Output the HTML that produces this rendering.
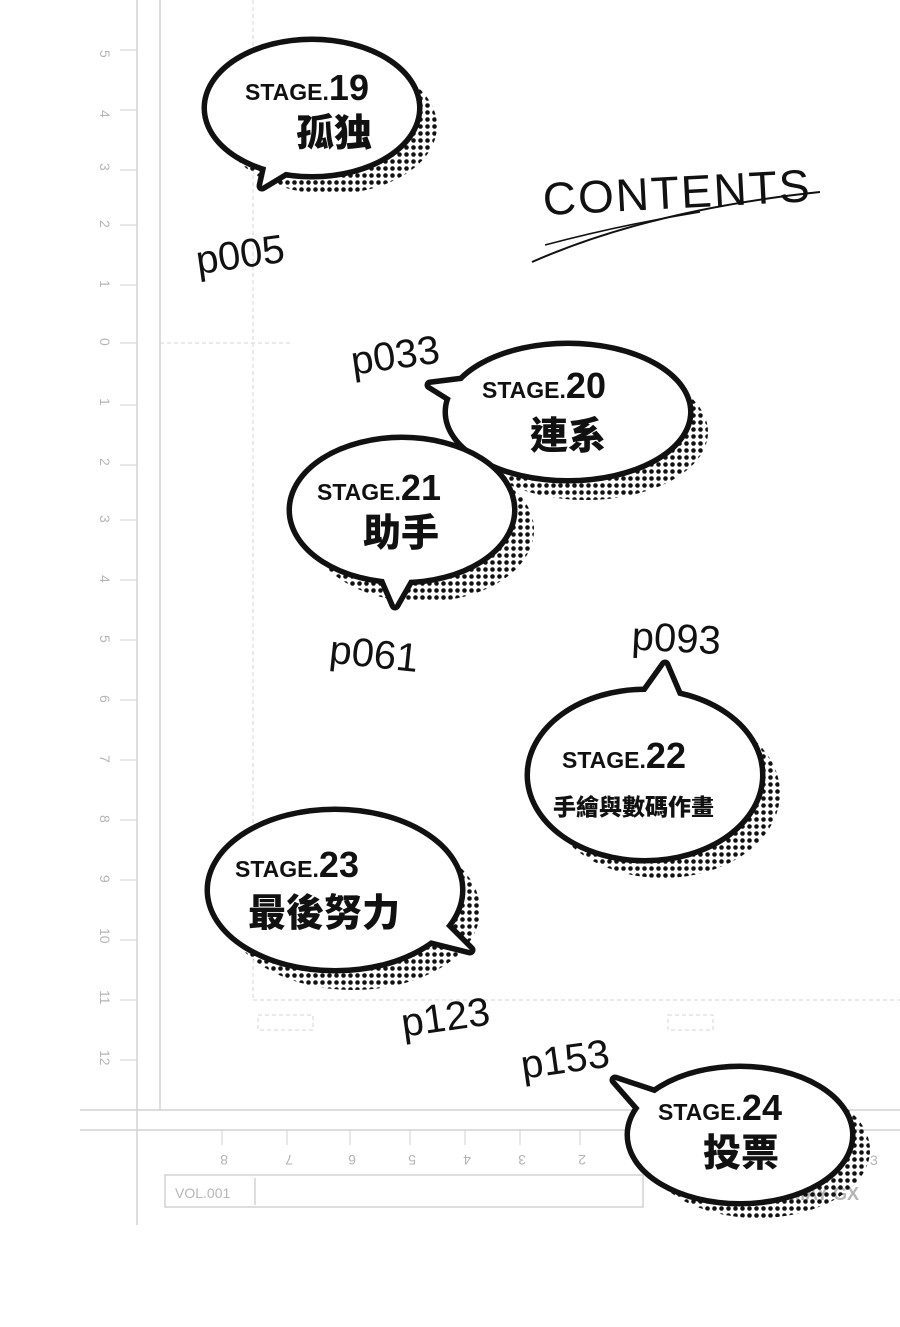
<!DOCTYPE html>
<html><head><meta charset="utf-8"><style>
html,body{margin:0;padding:0;background:#fff;}
svg{display:block;}
.st{font-family:"Liberation Sans",sans-serif;font-weight:bold;fill:#111;}
.kj{font-family:"Liberation Sans","Noto Sans CJK TC",sans-serif;font-weight:900;fill:#111;}
.hw{font-family:"Liberation Sans",sans-serif;fill:#111;font-weight:normal;}
.rl{font-family:"Liberation Sans",sans-serif;fill:#b5b5b5;font-size:14px;}
</style></head><body>
<svg width="900" height="1327" viewBox="0 0 900 1327" xmlns="http://www.w3.org/2000/svg">
<defs>
<pattern id="dots" width="7" height="7" patternUnits="userSpaceOnUse">
<circle cx="3.5" cy="3.5" r="2.3" fill="#111"/>
</pattern>
</defs>
<rect width="900" height="1327" fill="#fff"/>
<g stroke="#d2d2d2" fill="none" stroke-width="1.5">
<line x1="137" y1="0" x2="137" y2="1225"/>
<line x1="160" y1="0" x2="160" y2="1110"/>
<line x1="80" y1="1110" x2="900" y2="1110"/>
<line x1="80" y1="1130" x2="900" y2="1130"/>
<rect x="165" y="1175" width="478" height="32"/>
<line x1="255" y1="1178" x2="255" y2="1205"/>
</g>
<g stroke="#d5d5d5" stroke-width="1" stroke-dasharray="4 3" fill="none">
<line x1="253" y1="0" x2="253" y2="1000"/>
<line x1="160" y1="343" x2="290" y2="343"/>
<line x1="253" y1="1000" x2="900" y2="1000"/>
<rect x="258" y="1015" width="55" height="15"/>
<rect x="668" y="1015" width="45" height="15"/>
</g>
<g stroke="#d2d2d2" stroke-width="1">
<line x1="120" y1="50" x2="137" y2="50"/><line x1="120" y1="110" x2="137" y2="110"/>
<line x1="120" y1="170" x2="137" y2="170"/><line x1="120" y1="225" x2="137" y2="225"/>
<line x1="120" y1="285" x2="137" y2="285"/><line x1="120" y1="343" x2="137" y2="343"/>
<line x1="120" y1="405" x2="137" y2="405"/><line x1="120" y1="465" x2="137" y2="465"/>
<line x1="120" y1="520" x2="137" y2="520"/><line x1="120" y1="580" x2="137" y2="580"/>
<line x1="120" y1="640" x2="137" y2="640"/><line x1="120" y1="700" x2="137" y2="700"/>
<line x1="120" y1="760" x2="137" y2="760"/><line x1="120" y1="820" x2="137" y2="820"/>
<line x1="120" y1="880" x2="137" y2="880"/><line x1="120" y1="940" x2="137" y2="940"/>
<line x1="120" y1="1000" x2="137" y2="1000"/><line x1="120" y1="1060" x2="137" y2="1060"/>
<line x1="222" y1="1130" x2="222" y2="1145"/><line x1="287" y1="1130" x2="287" y2="1145"/>
<line x1="350" y1="1130" x2="350" y2="1145"/><line x1="410" y1="1130" x2="410" y2="1145"/>
<line x1="465" y1="1130" x2="465" y2="1145"/><line x1="520" y1="1130" x2="520" y2="1145"/>
<line x1="580" y1="1130" x2="580" y2="1145"/><line x1="635" y1="1130" x2="635" y2="1145"/>
</g>
<g class="rl">
<text transform="translate(100,50) rotate(90)">5</text>
<text transform="translate(100,110) rotate(90)">4</text>
<text transform="translate(100,163) rotate(90)">3</text>
<text transform="translate(100,220) rotate(90)">2</text>
<text transform="translate(100,280) rotate(90)">1</text>
<text transform="translate(100,338) rotate(90)">0</text>
<text transform="translate(100,398) rotate(90)">1</text>
<text transform="translate(100,458) rotate(90)">2</text>
<text transform="translate(100,515) rotate(90)">3</text>
<text transform="translate(100,575) rotate(90)">4</text>
<text transform="translate(100,635) rotate(90)">5</text>
<text transform="translate(100,695) rotate(90)">6</text>
<text transform="translate(100,755) rotate(90)">7</text>
<text transform="translate(100,815) rotate(90)">8</text>
<text transform="translate(100,875) rotate(90)">9</text>
<text transform="translate(100,928) rotate(90)">10</text>
<text transform="translate(100,990) rotate(90)">11</text>
<text transform="translate(100,1050) rotate(90)">12</text>
<text transform="translate(228,1155) rotate(180)">8</text>
<text transform="translate(293,1155) rotate(180)">7</text>
<text transform="translate(356,1155) rotate(180)">6</text>
<text transform="translate(416,1155) rotate(180)">5</text>
<text transform="translate(471,1155) rotate(180)">4</text>
<text transform="translate(526,1155) rotate(180)">3</text>
<text transform="translate(586,1155) rotate(180)">2</text>
<text transform="translate(641,1155) rotate(180)">1</text>
<text x="175" y="1198">VOL.001</text>
<text x="790" y="1200" font-weight="bold" font-size="18">MAY GX</text>
<text x="870" y="1165">3</text>
</g>

<text x="542" y="208" class="hw" font-size="46" letter-spacing="2" transform="rotate(-3 680 180)">CONTENTS</text>
<path d="M532 262 Q650 210 820 192" stroke="#111" stroke-width="2" fill="none"/>
<path d="M545 245 Q620 225 700 212" stroke="#111" stroke-width="1.5" fill="none"/>

<g class="hw" font-size="40">
<text x="195" y="268" transform="rotate(-8 240 250)">p005</text>
<text x="350" y="368" transform="rotate(-8 400 350)">p033</text>
<text x="330" y="668" transform="rotate(6 380 650)">p061</text>
<text x="632" y="652" transform="rotate(3 680 635)">p093</text>
<text x="400" y="1030" transform="rotate(-8 450 1010)">p123</text>
<text x="520" y="1072" transform="rotate(-8 570 1055)">p153</text>
</g>

<g>
<g transform="translate(18,18)" fill="url(#dots)"><ellipse cx="312" cy="108" rx="107" ry="68"/></g>
<g stroke="#111" stroke-width="11" stroke-linejoin="round">
<ellipse cx="312" cy="108" rx="105" ry="66"/><polygon points="270,150 262,186 305,160"/></g>
<g fill="#fff"><ellipse cx="312" cy="108" rx="105" ry="66"/><polygon points="270,150 262,186 305,160"/></g>
<text x="245" y="100" class="st" font-size="23">STAGE.<tspan font-size="36">19</tspan></text>
<text x="296" y="146" class="kj" font-size="38">孤独</text>
</g>
<g>
<g transform="translate(18,20)" fill="url(#dots)"><ellipse cx="568" cy="412" rx="122" ry="68"/></g>
<g stroke="#111" stroke-width="11" stroke-linejoin="round">
<ellipse cx="568" cy="412" rx="120" ry="66"/><polygon points="470,380 430,385 470,410"/></g>
<g fill="#fff"><ellipse cx="568" cy="412" rx="120" ry="66"/><polygon points="470,380 430,385 470,410"/></g>
<text x="482" y="398" class="st" font-size="23">STAGE.<tspan font-size="36">20</tspan></text>
<text x="530" y="449" class="kj" font-size="38">連系</text>
</g>
<g>
<g transform="translate(20,20)" fill="url(#dots)"><ellipse cx="402" cy="510" rx="112" ry="72"/></g>
<g stroke="#111" stroke-width="11" stroke-linejoin="round">
<ellipse cx="402" cy="510" rx="110" ry="70"/><polygon points="380,570 395,605 415,570"/></g>
<g fill="#fff"><ellipse cx="402" cy="510" rx="110" ry="70"/><polygon points="380,570 395,605 415,570"/></g>
<text x="317" y="500" class="st" font-size="23">STAGE.<tspan font-size="36">21</tspan></text>
<text x="363" y="546" class="kj" font-size="38">助手</text>
</g>
<g>
<g transform="translate(18,18)" fill="url(#dots)"><ellipse cx="645" cy="775" rx="117" ry="85"/></g>
<g stroke="#111" stroke-width="11" stroke-linejoin="round">
<ellipse cx="645" cy="775" rx="115" ry="83"/><polygon points="640,700 665,665 680,700"/></g>
<g fill="#fff"><ellipse cx="645" cy="775" rx="115" ry="83"/><polygon points="640,700 665,665 680,700"/></g>
<text x="562" y="768" class="st" font-size="23">STAGE.<tspan font-size="36">22</tspan></text>
<text x="553" y="815" class="kj" font-size="23">手繪與數碼作畫</text>
</g>
<g>
<g transform="translate(18,20)" fill="url(#dots)"><ellipse cx="335" cy="890" rx="127" ry="80"/></g>
<g stroke="#111" stroke-width="11" stroke-linejoin="round">
<ellipse cx="335" cy="890" rx="125" ry="78"/><polygon points="440,920 470,950 430,940"/></g>
<g fill="#fff"><ellipse cx="335" cy="890" rx="125" ry="78"/><polygon points="440,920 470,950 430,940"/></g>
<text x="235" y="877" class="st" font-size="23">STAGE.<tspan font-size="36">23</tspan></text>
<text x="248" y="926" class="kj" font-size="38">最後努力</text>
</g>
<g>
<g transform="translate(18,15)" fill="url(#dots)"><ellipse cx="740" cy="1135" rx="112" ry="68"/></g>
<g stroke="#111" stroke-width="11" stroke-linejoin="round">
<ellipse cx="740" cy="1135" rx="110" ry="66"/><polygon points="660,1095 615,1080 650,1120"/></g>
<g fill="#fff"><ellipse cx="740" cy="1135" rx="110" ry="66"/><polygon points="660,1095 615,1080 650,1120"/></g>
<text x="658" y="1120" class="st" font-size="23">STAGE.<tspan font-size="36">24</tspan></text>
<text x="703" y="1166" class="kj" font-size="38">投票</text>
</g>
</svg>
</body></html>
